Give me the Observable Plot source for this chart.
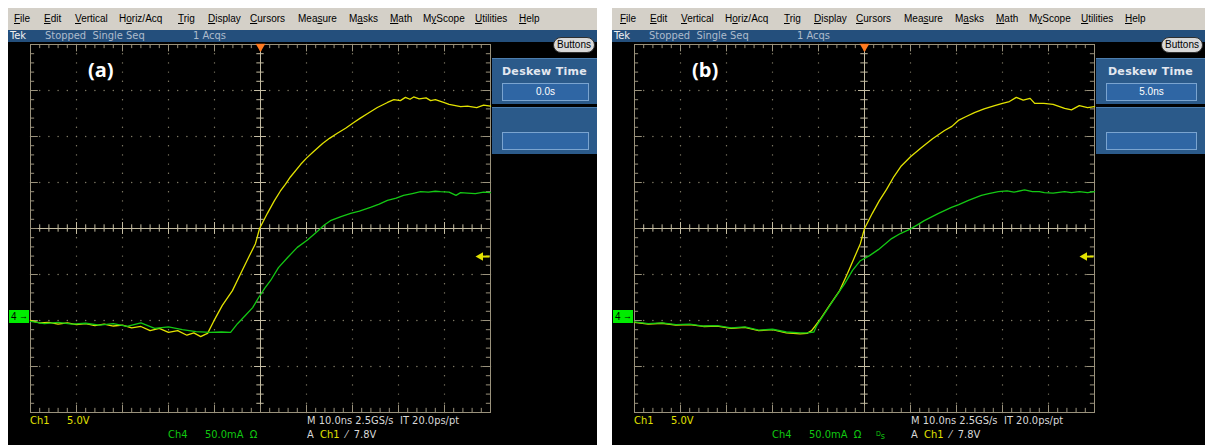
<!DOCTYPE html>
<html><head><meta charset="utf-8">
<script src="https://cdn.jsdelivr.net/npm/d3@7"></script>
<script src="https://cdn.jsdelivr.net/npm/@observablehq/plot@0.6"></script>
<style>
html,body{margin:0;padding:0;background:#fff;}
body{width:1205px;height:445px;overflow:hidden;position:relative;font-family:"Liberation Sans Narrow","DejaVu Sans Condensed",sans-serif;}
.panel{position:absolute;top:8px;height:437px;background:#000;overflow:hidden;}
.menu{position:absolute;left:0;top:0;right:0;height:22px;background:#d4d0c8;font:10px "Liberation Sans",sans-serif;color:#000;}
.menu span{position:absolute;top:5px;white-space:nowrap;}
.status{position:absolute;left:0;top:22px;right:0;height:12px;background:#244f7c;font-size:11px;line-height:12px;white-space:nowrap;}
.status span{position:absolute;top:0;}
.plotwrap{position:absolute;left:0;top:34px;}
.plotwrap svg{display:block;}
.btn{position:absolute;top:29px;height:14px;width:40px;background:#d8d8d8;border:1px solid #303030;border-radius:8px;font:10px "Liberation Sans",sans-serif;line-height:14px;text-align:center;color:#000;}
.bpanel{position:absolute;background:#2b5a8a;border-top:1px solid #4d7eae;}
.bpanel .lbl{position:absolute;left:0;right:0;top:6px;text-align:center;font:bold 11px "DejaVu Sans",sans-serif;color:#e4e8f0;letter-spacing:0.3px;}
.bpanel .box{position:absolute;height:16px;background:#2f66a4;border:1px solid #7aa4d0;font:10px "Liberation Sans",sans-serif;line-height:16px;text-align:center;color:#fff;}
.txt{position:absolute;font-size:11px;line-height:14px;white-space:nowrap;}
.y{color:#e0e000;} .g{color:#10c810;} .w{color:#d8d8d8;}
.lab{position:absolute;top:48px;font:bold 20px "Open Sans",sans-serif;color:#fff;}
.gnd{position:absolute;left:1px;width:20px;height:13px;background:#00ec00;color:#000;font:10px "Liberation Sans",sans-serif;line-height:13px;}
.gnd b{position:absolute;left:2px;top:0;font-weight:normal;}
.gnd i{position:absolute;left:10px;top:0;font-style:normal;font-size:9px;}
</style>
</head><body>
<script>
// ---- data (time in ns, amplitude in screen divisions) ----
const yellowA_t = [-50,-48,-46,-44,-42,-40,-38,-36,-34,-32,-30,-28,-26,-24,-22,-20,-18,-16,-14.5,-13,-12,-11.5,-10.2,-8.3,-6.1,-4.3,-2.6,-1.1,-0.2,1.5,3,4.3,5.4,6.5,8.7,10,11.5,13.5,15,16.7,18.5,20.2,21.7,23.3,25.4,27.6,29,30.4,31.5,32.5,33.3,34.5,36,37,38,39.8,41,43.5,45,47,48.5,50];
const yellowA_v = [-2.00,-2.05,-2.04,-2.08,-2.05,-2.09,-2.07,-2.11,-2.08,-2.12,-2.10,-2.16,-2.13,-2.22,-2.17,-2.26,-2.22,-2.32,-2.27,-2.35,-2.30,-2.28,-2.02,-1.67,-1.35,-0.98,-0.63,-0.33,0,0.33,0.60,0.81,0.96,1.12,1.39,1.53,1.67,1.85,1.96,2.07,2.18,2.30,2.40,2.50,2.63,2.74,2.80,2.78,2.85,2.81,2.86,2.82,2.84,2.78,2.80,2.74,2.70,2.65,2.66,2.63,2.68,2.66];
const greenA_t = [-50,-47,-44,-41,-38,-35,-32,-29,-26,-23,-20,-17,-14,-11,-8.5,-6.5,-5,-3.3,-1.7,-0.4,0.9,2.2,3.9,5.9,8,10.2,12.4,13.8,15.2,17.5,19.6,21.5,23.9,25.8,27.6,29.5,31.1,33,34.8,36.5,38,39.1,41,42.5,43.5,45,46.7,48.5,50];
const greenA_v = [-2.02,-2.07,-2.04,-2.08,-2.06,-2.10,-2.07,-2.13,-2.05,-2.17,-2.14,-2.20,-2.24,-2.26,-2.25,-2.26,-2.07,-1.89,-1.72,-1.50,-1.30,-1.13,-0.85,-0.63,-0.41,-0.25,-0.06,0.07,0.17,0.26,0.33,0.38,0.46,0.53,0.61,0.66,0.72,0.76,0.80,0.79,0.81,0.80,0.79,0.72,0.78,0.77,0.76,0.79,0.78];
const yellowB_t = [-50,-47,-44,-41,-38,-35,-32,-29,-26,-23,-20,-17,-14,-12.5,-11.5,-9.8,-7.6,-5.4,-3.7,-2.2,-0.9,0,1.7,3.2,4.8,6.4,8,10,12.4,14.8,17.4,19,20.4,22,23.9,26,28.3,30,31.5,33,34.5,36,37,39,41,43.5,45,46.7,48.5,50];
const yellowB_v = [-2.04,-2.08,-2.06,-2.10,-2.09,-2.13,-2.12,-2.17,-2.15,-2.22,-2.20,-2.27,-2.29,-2.28,-2.22,-2.00,-1.67,-1.35,-0.98,-0.63,-0.33,0,0.33,0.60,0.85,1.13,1.36,1.56,1.76,1.95,2.13,2.22,2.35,2.43,2.52,2.60,2.67,2.72,2.76,2.85,2.79,2.83,2.72,2.72,2.70,2.61,2.58,2.67,2.63,2.65];
const greenB_t = [-50,-47,-44,-41,-38,-35,-32,-29,-26,-23,-20,-17,-14,-12.5,-11,-10.4,-8.7,-6.5,-4.3,-2.6,-0.9,1.1,3,5.9,7.8,9.8,11.5,13,16.1,18.9,20.5,22.6,25.4,27,29.1,31,32.5,34.8,36.5,38,39.1,41,43.5,45,46.7,48.5,50];
const greenB_v = [-2.03,-2.07,-2.05,-2.09,-2.08,-2.12,-2.11,-2.16,-2.14,-2.21,-2.19,-2.25,-2.27,-2.27,-2.25,-2.11,-1.85,-1.52,-1.20,-0.91,-0.70,-0.59,-0.46,-0.22,-0.11,-0.02,0.08,0.17,0.33,0.46,0.52,0.61,0.72,0.76,0.80,0.82,0.79,0.84,0.80,0.80,0.78,0.77,0.80,0.78,0.80,0.78,0.80];

const timeDomain = [-50, 50];      // ns, 10 ns/div
const divDomain = [-4, 4];         // vertical divisions
const ch1Position = -2.17;         // div
const ch1Scale = 5.0;              // V/div
const triggerLevel = 7.8;          // V
const ch4Position = -1.92;         // div

const menuItems = [["<u>F</u>ile",6],["<u>E</u>dit",36],["<u>V</u>ertical",67],["H<u>o</u>riz/Acq",111],["<u>T</u>rig",170],["<u>D</u>isplay",200],["<u>C</u>ursors",242],["Mea<u>s</u>ure",290],["M<u>a</u>sks",341],["<u>M</u>ath",382],["M<u>y</u>Scope",415],["<u>U</u>tilities",467],["<u>H</u>elp",511]];

const panels = [
  {left: 8, width: 589, label: "(a)", deskew: "0.0s", yt: yellowA_t, yv: yellowA_v, gt: greenA_t, gv: greenA_v, ds: false},
  {left: 612, width: 593, label: "(b)", deskew: "5.0ns", yt: yellowB_t, yv: yellowB_v, gt: greenB_t, gv: greenB_v, ds: true}
];

const gridCol = "#9a927c", dotCol = "#8a846e", centerCol = "#c4bca2";
const yellowCol = "#e2e200", greenCol = "#14c814";

function scopePlot(p) {
  const yellow = p.yt.map((t, i) => ({t, v: p.yv[i]}));
  const green = p.gt.map((t, i) => ({t, v: p.gv[i]}));
  const majX = d3.range(-50, 50.001, 10);
  const minX = d3.range(-50, 50.001, 2);
  const majY = d3.range(-4, 4.001, 1);
  const minY = d3.range(-4, 4.001, 0.2);
  const dots = [];
  for (const x of majX) if (Math.abs(x) > 1e-6 && Math.abs(x) < 49) for (const y of minY) dots.push({x, y});
  for (const y of majY) if (Math.abs(y) > 1e-6 && Math.abs(y) < 3.9) for (const x of minX) dots.push({x, y});
  const trig = ch1Position + triggerLevel / ch1Scale;
  const w = p.width;
  return Plot.plot({
    width: w, height: 403,
    marginLeft: 22, marginRight: w - 22 - 460, marginTop: 2, marginBottom: 33,
    x: {domain: timeDomain, axis: null},
    y: {domain: divDomain, axis: null},
    style: {background: "transparent", overflow: "visible"},
    marks: [
      Plot.dot(dots, {x: "x", y: "y", r: 0.7, fill: dotCol, stroke: null}),
      Plot.ruleX([0], {stroke: centerCol, strokeWidth: 1}),
      Plot.ruleY([0], {stroke: centerCol, strokeWidth: 1}),
      Plot.ruleX(minX, {x: d => d, y1: -0.08, y2: 0.08, stroke: centerCol}),
      Plot.ruleX(majX, {x: d => d, y1: -0.13, y2: 0.13, stroke: centerCol}),
      Plot.ruleY(minY, {y: d => d, x1: -0.8, x2: 0.8, stroke: centerCol}),
      Plot.ruleY(majY, {y: d => d, x1: -1.3, x2: 1.3, stroke: centerCol}),
      Plot.ruleX(minX, {x: d => d, y1: -4, y2: -3.91, stroke: gridCol}),
      Plot.ruleX(minX, {x: d => d, y1: 3.91, y2: 4, stroke: gridCol}),
      Plot.ruleX(majX, {x: d => d, y1: -4, y2: -3.84, stroke: gridCol}),
      Plot.ruleX(majX, {x: d => d, y1: 3.84, y2: 4, stroke: gridCol}),
      Plot.ruleY(minY, {y: d => d, x1: -50, x2: -49.1, stroke: gridCol}),
      Plot.ruleY(minY, {y: d => d, x1: 49.1, x2: 50, stroke: gridCol}),
      Plot.ruleY(majY, {y: d => d, x1: -50, x2: -48.3, stroke: gridCol}),
      Plot.ruleY(majY, {y: d => d, x1: 48.3, x2: 50, stroke: gridCol}),
      Plot.frame({stroke: gridCol}),
      Plot.line(yellow, {x: "t", y: "v", stroke: yellowCol, strokeWidth: 1.3}),
      Plot.line(green, {x: "t", y: "v", stroke: greenCol, strokeWidth: 1.3}),
      Plot.ruleY([trig], {x1: 48.3, x2: 49.9, stroke: yellowCol, strokeWidth: 2}),
      Plot.dot([trig], {x: 50, y: d => d, dx: -10, symbol: "triangle", rotate: -90, r: 3.2, fill: yellowCol, stroke: null}),
      Plot.ruleX([0], {y1: 3.85, y2: 4, stroke: "#ff7a20", strokeWidth: 1.5}),
      Plot.dot([0], {x: d => d, y: 4, dy: 2, symbol: "triangle", rotate: 180, r: 3.6, fill: "#ff7a20", stroke: null})
    ]
  });
}

for (const p of panels) {
  const el = document.createElement("div");
  el.className = "panel";
  el.style.left = p.left + "px";
  el.style.width = p.width + "px";
  let html = `<div class="menu">${menuItems.map(([t, x]) => `<span style="left:${x + (p.ds ? 2 : 0)}px">${t}</span>`).join("")}</div>`;
  html += `<div class="status"><span style="left:2px;color:#f0f0f0">Tek</span><span style="left:37px;color:#aebccc">Stopped&nbsp; Single Seq</span><span style="left:185px;color:#aebccc">1 Acqs</span></div>`;
  html += `<div class="plotwrap"></div>`;
  const bw = p.width - 484;
  html += `<div class="btn" style="left:${p.width - 44}px">Buttons</div>`;
  html += `<div class="bpanel" style="left:484px;top:50px;width:${bw}px;height:45px"><div class="lbl">Deskew Time</div><div class="box" style="left:10px;top:24px;width:${bw - 20}px">${p.deskew}</div></div>`;
  html += `<div class="bpanel" style="left:484px;top:99px;width:${bw}px;height:46px"><div class="box" style="left:10px;top:24px;width:${bw - 20}px"></div></div>`;
  html += `<div class="lab" style="left:80px">${p.label}</div>`;
  const gy = 34 + 2 + (4 - ch4Position) * 46 - 6.5;
  html += `<div class="gnd" style="top:${gy}px"><b>4</b><i>&#x2192;</i></div>`;
  html += `<div class="txt y" style="left:22px;top:406px">Ch1</div><div class="txt y" style="left:59px;top:406px">${ch1Scale.toFixed(1)}V</div>`;
  html += `<div class="txt g" style="left:160px;top:420px">Ch4</div><div class="txt g" style="left:197px;top:420px">50.0mA&nbsp; &#937;</div>`;
  if (p.ds) html += `<div class="txt g" style="left:264px;top:419px;font-size:9px"><span style="font-size:7px;vertical-align:3px">D</span>s</div>`;
  html += `<div class="txt w" style="left:299px;top:406px">M 10.0ns 2.5GS/s</div><div class="txt w" style="left:392px;top:406px">IT 20.0ps/pt</div>`;
  html += `<div class="txt w" style="left:299px;top:420px">A&nbsp; <span class="y">Ch1</span>&nbsp; &#8260;&nbsp; ${triggerLevel.toFixed(1)}V</div>`;
  el.innerHTML = html;
  el.querySelector(".plotwrap").appendChild(scopePlot(p));
  document.body.appendChild(el);
}
</script>
</body></html>
